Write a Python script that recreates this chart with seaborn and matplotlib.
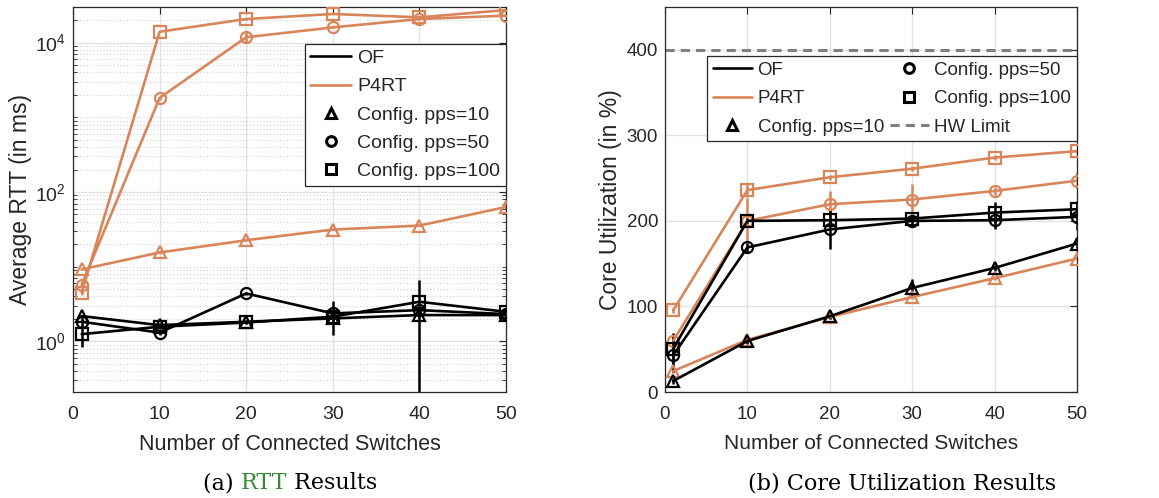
import numpy as np
import pandas as pd
import matplotlib
matplotlib.use("Agg")
import matplotlib.pyplot as plt
from matplotlib.lines import Line2D
from matplotlib.ticker import LogLocator, NullFormatter, FixedLocator
import seaborn as sns

# ---------------- data ----------------
switches = [1, 10, 20, 30, 40, 50]

# RTT (ms)
rtt_of_pps10 = [2.18, 1.65, 1.83, 2.03, 2.25, 2.25]
rtt_of_pps50 = [1.83, 1.31, 4.38, 2.37, 2.62, 2.32]
rtt_of_pps100 = [1.25, 1.57, 1.79, 2.14, 3.39, 2.49]
rtt_p4_pps10 = [9.2, 15.5, 22.6, 31.4, 35.5, 63.0]
rtt_p4_pps50 = [5.7, 1820, 11800, 16000, 20700, 23000]
rtt_p4_pps100 = [4.5, 14000, 20700, 24200, 21800, 27300]

rtt_err_of_pps10 = [0.1, 0.1, 0.1, 0.1, 0.1, 0.1]
rtt_err_of_pps50 = [0.2, 0.1, 0.2, 1.15, 0.3, 0.2]
rtt_err_of_pps100 = [0.42, 0.1, 0.1, 0.2, 3.2, 0.2]
rtt_err_p4_pps10 = [0.3, 0.5, 0.5, 0.8, 0.8, 1.0]
rtt_err_p4_pps50 = [0.5, 100, 2000, 500, 500, 500]
rtt_err_p4_pps100 = [0.3, 300, 300, 300, 300, 300]

# Core utilization (%)
cpu_of_pps10 = [12.9, 59.6, 88.5, 121.6, 145.0, 173.5]
cpu_of_pps50 = [43.0, 169.0, 190.0, 200.0, 200.8, 204.7]
cpu_of_pps100 = [50.7, 200.0, 200.8, 202.7, 209.7, 213.6]
cpu_p4_pps10 = [24.5, 61.0, 87.7, 111.0, 133.0, 156.0]
cpu_p4_pps50 = [60.0, 200.0, 219.5, 225.0, 235.0, 247.0]
cpu_p4_pps100 = [95.5, 236.0, 251.0, 261.0, 274.0, 281.5]

cpu_err_of_pps10 = [3, 3, 3, 10, 3, 5]
cpu_err_of_pps50 = [20, 5, 23, 5, 10, 15]
cpu_err_of_pps100 = [18, 3, 3, 3, 12, 10]
cpu_err_p4_pps10 = [2, 2, 2, 2, 2, 2]
cpu_err_p4_pps50 = [5, 27, 15, 18, 5, 10]
cpu_err_p4_pps100 = [3, 8, 3, 3, 3, 3]

hw_limit = 400

proto_labels = ["OF", "P4RT"]
pps_labels = ["Config. pps=10", "Config. pps=50", "Config. pps=100"]
caption_a = ["(a) ", "RTT", " Results"]
caption_b = "(b) Core Utilization Results"

# ---------------- style ----------------
sns.set_theme(style="white")
plt.rcParams["font.family"] = ["Liberation Sans", "DejaVu Sans"]
plt.rcParams["mathtext.fontset"] = "custom"
plt.rcParams["mathtext.rm"] = "Liberation Sans"
plt.rcParams["mathtext.it"] = "Liberation Sans:italic"

BLACK = "#000000"
ORANGE = "#D9855A"
GREEN = "#3A8A3A"
TXT = "#262626"
markers = ["^", "o", "s"]

fig = plt.figure(figsize=(11.59, 4.98), dpi=100)
axL = fig.add_axes([73 / 1159, 1 - 392 / 498, (506 - 73) / 1159, (392 - 7) / 498])
axR = fig.add_axes([665 / 1159, 1 - 392 / 498, (1077 - 665) / 1159, (392 - 7) / 498])


def draw(ax, series, errs, color):
    for vals, err, m in zip(series, errs, markers):
        ax.errorbar(switches, vals, yerr=err, fmt="none", ecolor=color,
                    elinewidth=1.8, capsize=0, zorder=3)
        sns.lineplot(x=switches, y=vals, color=color, marker=m, mfc="none",
                     mec=color, mew=1.6, ms=8, lw=1.9, ax=ax, zorder=4,
                     legend=False)


draw(axL, [rtt_p4_pps10, rtt_p4_pps50, rtt_p4_pps100],
     [rtt_err_p4_pps10, rtt_err_p4_pps50, rtt_err_p4_pps100], ORANGE)
draw(axL, [rtt_of_pps10, rtt_of_pps50, rtt_of_pps100],
     [rtt_err_of_pps10, rtt_err_of_pps50, rtt_err_of_pps100], BLACK)
draw(axR, [cpu_p4_pps10, cpu_p4_pps50, cpu_p4_pps100],
     [cpu_err_p4_pps10, cpu_err_p4_pps50, cpu_err_p4_pps100], ORANGE)
draw(axR, [cpu_of_pps10, cpu_of_pps50, cpu_of_pps100],
     [cpu_err_of_pps10, cpu_err_of_pps50, cpu_err_of_pps100], BLACK)

axR.axhline(hw_limit, color="#808080", ls=(0, (3, 2)), lw=2.2, zorder=2)

# ---- left axes formatting ----
axL.set_yscale("log")
axL.set_xlim(0, 50)
axL.set_ylim(0.21, 3.0e4)
axL.yaxis.set_major_locator(FixedLocator([1, 1e2, 1e4]))
axL.set_yticklabels([r"$\mathregular{10^0}$", r"$\mathregular{10^2}$", r"$\mathregular{10^4}$"])
axL.yaxis.set_minor_locator(LogLocator(base=10, subs=np.arange(1, 10), numticks=50))
axL.yaxis.set_minor_formatter(NullFormatter())
axL.set_ylabel("Average RTT (in ms)", fontsize=16.5, color=TXT, labelpad=2)
axL.set_xlabel("Number of Connected Switches", fontsize=15.5, color=TXT, labelpad=8)

# ---- right axes formatting ----
axR.set_xlim(0, 50)
axR.set_ylim(0, 450)
axR.set_yticks([0, 100, 200, 300, 400])
axR.set_ylabel("Core Utilization (in %)", fontsize=16.5, color=TXT, labelpad=3)
axR.set_xlabel("Number of Connected Switches", fontsize=15, color=TXT, labelpad=8)

for ax, ts in ((axL, 14), (axR, 13.5)):
    ax.set_xticks([0, 10, 20, 30, 40, 50])
    ax.tick_params(axis="both", which="major", direction="in", length=5, width=0.8,
                   top=True, right=True, labelsize=ts, colors=TXT, pad=10)
    ax.tick_params(axis="both", which="minor", direction="in", length=3, width=0.6,
                   top=False, right=True, left=True)
    ax.tick_params(axis="y", which="major", pad=5)
    ax.grid(True, which="major", color="#E3E3E3", lw=1.0, zorder=0)
    for s in ax.spines.values():
        s.set_color(TXT)
        s.set_linewidth(0.9)
    ax.set_axisbelow(True)

axL.grid(True, which="minor", axis="y", color="#D0D0D0", lw=0.8, ls=(0, (1, 2)), zorder=0)

# ---- legends ----
h_of = Line2D([], [], color=BLACK, lw=1.9)
h_p4 = Line2D([], [], color=ORANGE, lw=1.9)
h_m = [Line2D([], [], color=BLACK, ls="none", marker=m, mfc="none", mew=2.2, ms=7)
       for m in markers]
h_hw = Line2D([], [], color="#808080", ls=(0, (3, 2)), lw=2.2)

leg_kw = dict(frameon=True, fancybox=False, framealpha=1, edgecolor=TXT,
              handlelength=2.1, handletextpad=0.3, borderpad=0.3, borderaxespad=0)

legL = axL.legend([h_of, h_p4] + h_m, proto_labels + pps_labels,
                  loc="upper right", bbox_to_anchor=(1.0, 0.905), fontsize=14,
                  labelspacing=0.55, **leg_kw)
legL.get_frame().set_linewidth(0.9)
legL.set_zorder(10)

legR = axR.legend([h_of, h_p4, h_m[0], h_m[1], h_m[2], h_hw],
                  proto_labels + [pps_labels[0], pps_labels[1], pps_labels[2], "HW Limit"],
                  ncol=2, loc="upper right", bbox_to_anchor=(1.0, 0.872), fontsize=13.5,
                  labelspacing=0.6, columnspacing=0.3, **leg_kw)
legR.get_frame().set_linewidth(0.9)
legR.set_zorder(10)

# ---- captions ----
cap_font = dict(family=["DejaVu Serif", "Liberation Serif"], fontsize=16)
cy = 1 - 483 / 498
fig.canvas.draw()
renderer = fig.canvas.get_renderer()
parts = [fig.text(0, cy, t, va="center", ha="left", color=c, **cap_font)
         for t, c in zip(caption_a, ["black", GREEN, "black"])]
widths = [p.get_window_extent(renderer).width / fig.bbox.width for p in parts]
x = 290 / 1159 - sum(widths) / 2
for p, w in zip(parts, widths):
    p.set_x(x)
    x += w
fig.text(902 / 1159, cy, caption_b, va="center", ha="center", color="black", **cap_font)

fig.savefig("out.png", dpi=100)
